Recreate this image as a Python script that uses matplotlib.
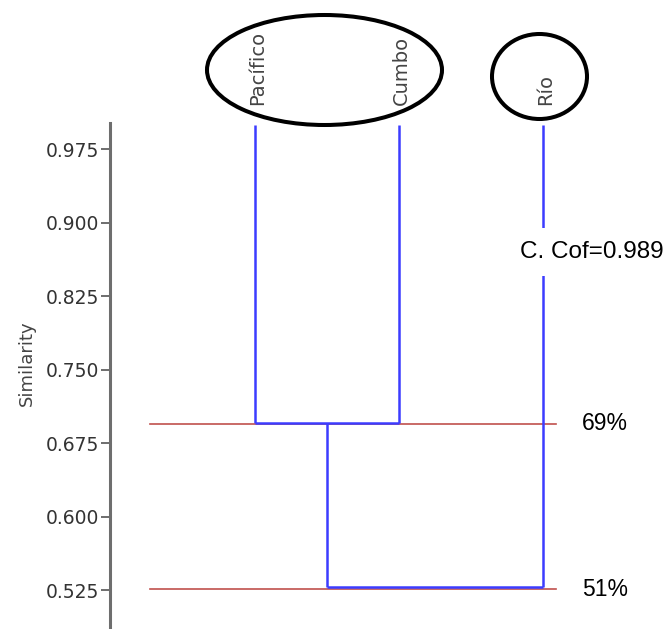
import matplotlib
matplotlib.use("Agg")
import matplotlib.pyplot as plt
from matplotlib.patches import Ellipse

# dendrogram data
taxa = ["Pacífico", "Cumbo", "Río"]
leaf_top = 1.0
# joins: (left node, right node, similarity); nodes 0..2 are leaves, 3.. are joins
joins = [(0, 1, 0.696), (3, 2, 0.528)]
cut_levels = [0.695, 0.526]
cut_labels = ["69%", "51%"]
coph_label = "C. Cof=0.989"
yticks = [0.525, 0.600, 0.675, 0.750, 0.825, 0.900, 0.975]

W, H = 672, 629
fig = plt.figure(figsize=(W / 100, H / 100), dpi=100)
ax = fig.add_axes([110 / W, 0, 1 - 110 / W, (H - 123) / H])
ax.set_xlim(-0.007, 3.896)
ax.set_ylim(0.4852, 1.0019)

blue = "#3c3cff"
red = "#c0504d"

# node positions
node_x = [i + 1 for i in range(len(taxa))]
node_y = [leaf_top] * len(taxa)
for a, b, sim in joins:
    for n in (a, b):
        ax.plot([node_x[n], node_x[n]], [node_y[n], sim], color=blue, lw=1.8,
                solid_capstyle="butt", zorder=3)
    ax.plot([node_x[a], node_x[b]], [sim, sim], color=blue, lw=1.8,
            solid_capstyle="butt", zorder=3)
    node_x.append((node_x[a] + node_x[b]) / 2)
    node_y.append(sim)

# cut lines with percentages
for lvl, lab in zip(cut_levels, cut_labels):
    ax.plot([0.271, 3.09], [lvl, lvl], color=red, lw=1.2, zorder=2)
    ax.text(3.27, lvl, lab, fontsize=16.5, family="Liberation Sans",
            ha="left", va="center", color="black")

# cophenetic correlation box, sits over the Río branch
ax.text(3.34, 0.8701, coph_label, fontsize=17.5, family="Liberation Sans",
        ha="center", va="center", color="black", zorder=5,
        bbox=dict(boxstyle="square,pad=0.55", fc="white", ec="none"))

# taxa names on top
for i, name in enumerate(taxa):
    ax.text(node_x[i] + 0.02, 1.0202, name, rotation=90, ha="center", va="bottom",
            fontsize=14, color="#444444", clip_on=False)

# axis styling
for s in ("top", "right", "bottom"):
    ax.spines[s].set_visible(False)
ax.spines["left"].set_color("#6e6e6e")
ax.spines["left"].set_linewidth(2.2)
ax.set_xticks([])
ax.set_yticks(yticks)
ax.set_yticklabels([f"{v:.3f}" for v in yticks])
ax.tick_params(axis="y", length=6.5, width=1.2, color="#555555",
               labelcolor="#333333", labelsize=13.5, pad=1.5)
fig.text(27 / W, 1 - 363 / H, "Similarity", rotation=90, ha="center",
         va="center", fontsize=13, color="#444444")

# circles around the groups
fig.add_artist(Ellipse((324.5 / 100, (H - 70) / 100), 2.35, 1.10,
                       transform=fig.dpi_scale_trans, fill=False,
                       ec="black", lw=2.9))
fig.add_artist(Ellipse((539.5 / 100, (H - 76.5) / 100), 0.95, 0.85,
                       transform=fig.dpi_scale_trans, fill=False,
                       ec="black", lw=2.9))

fig.savefig("out.png", dpi=100)
